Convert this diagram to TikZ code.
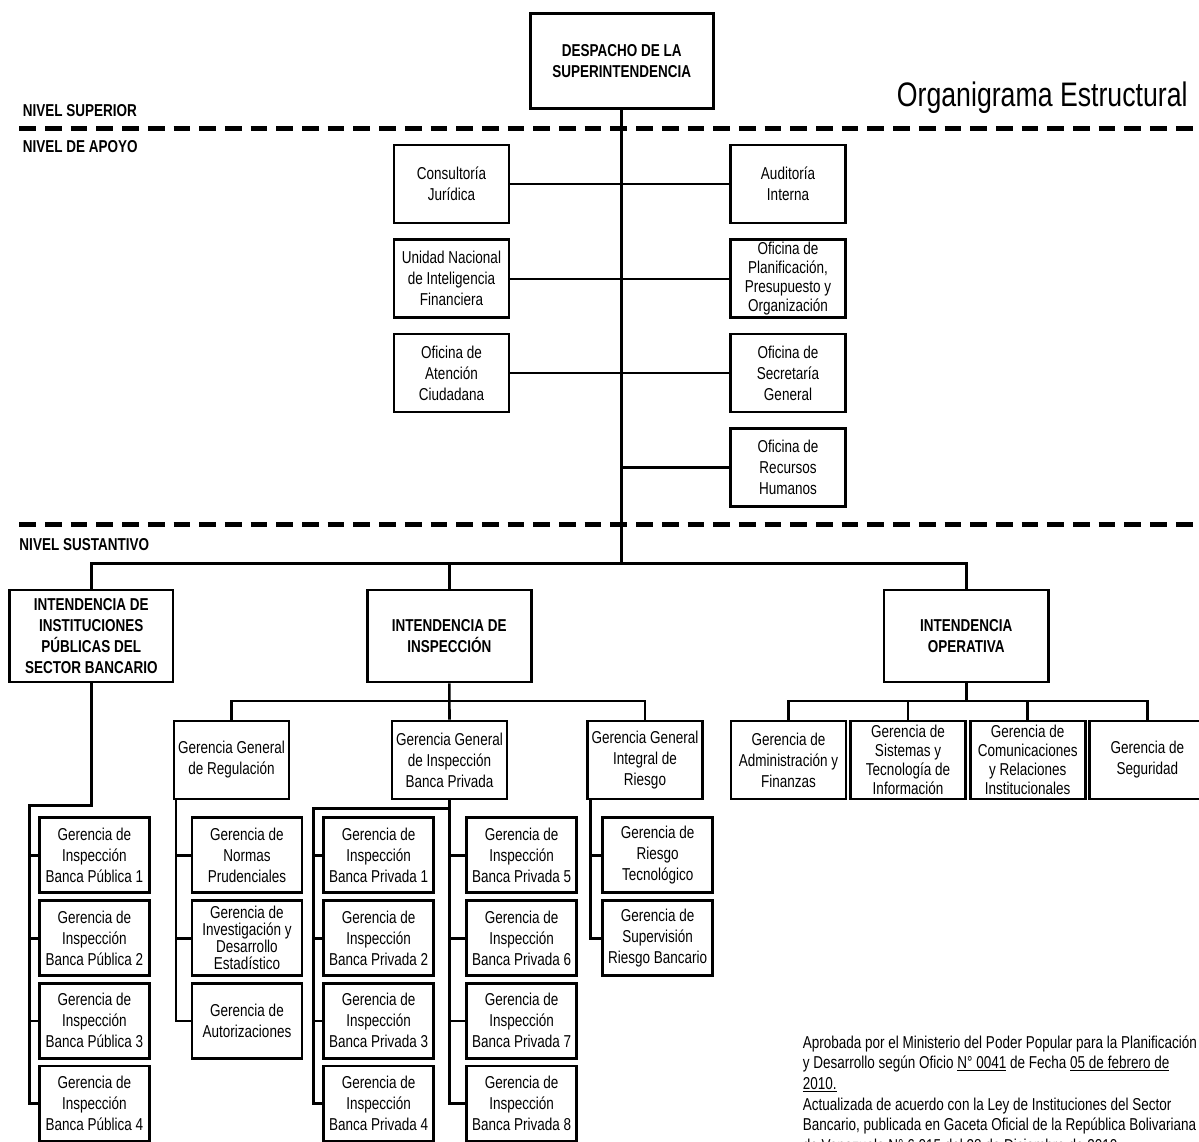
\documentclass[tikz,border=0pt]{standalone}
\usepackage{fontspec}
\setmainfont{Liberation Sans}[FakeStretch=0.785]
\usepackage{tikz}
\usetikzlibrary{calc}

\tikzset{
  caja/.style={draw, line width=2.7pt, minimum width=115pt, minimum height=78pt, inner sep=1pt, align=center, font=\fontsize{17.2}{21}\selectfont},
  cajab/.style={caja, font=\fontsize{17.2}{21}\selectfont\bfseries},
  cajap/.style={caja, minimum width=110pt, minimum height=75pt},
  linea/.style={line width=2.6pt},
  nivel/.style={anchor=base west, inner sep=0pt, font=\fontsize{17.2}{20}\selectfont\bfseries},
  corte/.style={line width=4.6pt, dash pattern=on 16.7pt off 9pt},
}

\begin{document}
\begin{tikzpicture}[x=1pt, y=-1pt]
    \path[use as bounding box] (0,0) rectangle (1199,1141);
    \clip (0,0) rectangle (1199,1141);
    \fill[white] (0,0) rectangle (1199,1141);

    % niveles
    \draw[corte] (19.3,128.3) -- (1215,128.3);
    \draw[corte] (19.3,524.5) -- (1215,524.5);
    \node[nivel] (nsup) at (22.7,116.7) {NIVEL SUPERIOR};
    \node[nivel] (napo) at (22.7,152.7) {NIVEL DE APOYO};
    \node[nivel] (nsus) at (19.3,550) {NIVEL SUSTANTIVO};
    \node[anchor=base west, inner sep=0pt, font=\fontsize{34}{40}\selectfont] (titulo) at (896.7,106.7) {Organigrama Estructural};

    % nivel superior
    \node[cajab, minimum width=183pt, minimum height=95pt] (despacho) at (621.7,60.8) {DESPACHO DE LA\\SUPERINTENDENCIA};

    % nivel de apoyo
    \node[caja] (consultoria) at (451.5,184) {Consultoría\\Jurídica};
    \node[caja] (unidad) at (451.5,278.8) {Unidad Nacional\\de Inteligencia\\Financiera};
    \node[caja] (atencion) at (451.5,373) {Oficina de\\Atención\\Ciudadana};
    \node[caja] (auditoria) at (788,184) {Auditoría\\Interna};
    \node[caja, font=\fontsize{17.2}{19}\selectfont] (planif) at (788,278.8) {Oficina de\\Planificación,\\Presupuesto y\\Organización};
    \node[caja] (secretaria) at (788,373) {Oficina de\\Secretaría\\General};
    \node[caja] (rrhh) at (788,467.5) {Oficina de\\Recursos\\Humanos};

    % nivel sustantivo: intendencias
    \node[cajab, minimum width=163.5pt, minimum height=92pt] (intpub) at (91.3,636) {INTENDENCIA DE\\INSTITUCIONES\\PÚBLICAS DEL\\SECTOR BANCARIO};
    \node[cajab, minimum width=164pt, minimum height=92pt] (intinsp) at (449.3,636) {INTENDENCIA DE\\INSPECCIÓN};
    \node[cajab, minimum width=164.5pt, minimum height=92pt] (intop) at (966.3,636) {INTENDENCIA\\OPERATIVA};

    % gerencias generales y gerencias operativas
    \node[caja] (ggreg) at (231.5,760) {Gerencia General\\de Regulación};
    \node[caja] (ggpriv) at (449.5,760) {Gerencia General\\de Inspección\\Banca Privada};
    \node[caja] (ggriesgo) at (645,760) {Gerencia General\\Integral de\\Riesgo};
    \node[caja] (gadm) at (788.5,760) {Gerencia de\\Administración y\\Finanzas};
    \node[caja, font=\fontsize{17.2}{19}\selectfont] (gsis) at (908,760) {Gerencia de\\Sistemas y\\Tecnología de\\Información};
    \node[caja, font=\fontsize{17.2}{19}\selectfont] (gcom) at (1027.7,760) {Gerencia de\\Comunicaciones\\y Relaciones\\Institucionales};
    \node[caja] (gseg) at (1147.3,760) {Gerencia de\\Seguridad};

    % banca publica
    \node[cajap] (pub1) at (94.3,855.2) {Gerencia de\\Inspección\\Banca Pública 1};
    \node[cajap] (pub2) at (94.3,938.2) {Gerencia de\\Inspección\\Banca Pública 2};
    \node[cajap] (pub3) at (94.3,1020.8) {Gerencia de\\Inspección\\Banca Pública 3};
    \node[cajap] (pub4) at (94.3,1103.5) {Gerencia de\\Inspección\\Banca Pública 4};

    % regulacion
    \node[cajap] (normas) at (247,855.2) {Gerencia de\\Normas\\Prudenciales};
    \node[cajap, font=\fontsize{17.2}{17}\selectfont] (investig) at (247,938.2) {Gerencia de\\Investigación y\\Desarrollo\\Estadístico};
    \node[cajap] (autoriz) at (247,1020.8) {Gerencia de\\Autorizaciones};

    % banca privada
    \node[cajap] (priv1) at (378.7,855.2) {Gerencia de\\Inspección\\Banca Privada 1};
    \node[cajap] (priv2) at (378.7,938.2) {Gerencia de\\Inspección\\Banca Privada 2};
    \node[cajap] (priv3) at (378.7,1020.8) {Gerencia de\\Inspección\\Banca Privada 3};
    \node[cajap] (priv4) at (378.7,1103.5) {Gerencia de\\Inspección\\Banca Privada 4};
    \node[cajap] (priv5) at (521.7,855.2) {Gerencia de\\Inspección\\Banca Privada 5};
    \node[cajap] (priv6) at (521.7,938.2) {Gerencia de\\Inspección\\Banca Privada 6};
    \node[cajap] (priv7) at (521.7,1020.8) {Gerencia de\\Inspección\\Banca Privada 7};
    \node[cajap] (priv8) at (521.7,1103.5) {Gerencia de\\Inspección\\Banca Privada 8};

    % riesgo
    \node[cajap] (riestec) at (657.7,855.2) {Gerencia de\\Riesgo\\Tecnológico};
    \node[cajap] (riesban) at (657.7,938.2) {Gerencia de\\Supervisión\\Riesgo Bancario};

    % conexiones superiores
    \coordinate (bus) at (621.7,563.3);
    \draw[linea] (despacho.south) -- (bus);
    \draw[linea] (consultoria.east) -- (auditoria.west);
    \draw[linea] (unidad.east) -- (planif.west);
    \draw[linea] (atencion.east) -- (secretaria.west);
    \draw[linea] (rrhh.west) -- (rrhh.west -| despacho.south);
    \draw[linea] (intpub.north) |- (bus) -| (intop.north);
    \draw[linea] (intinsp.north) -- (intinsp.north |- bus);

    % inspeccion
    \coordinate (binsp) at (449.3,701);
    \draw[linea] (intinsp.south) -- (ggpriv.north);
    \draw[linea] (ggreg.north) |- (binsp) -| (ggriesgo.north);

    % operativa
    \coordinate (bop) at (966.3,701);
    \draw[linea] (intop.south) -- (bop);
    \draw[linea] (gadm.north) |- (bop) -| (gseg.north);
    \draw[linea] (gsis.north) -- (gsis.north |- bop);
    \draw[linea] (gcom.north) -- (gcom.north |- bop);

    % banca publica
    \coordinate (cpub) at (29.3,805.7);
    \draw[linea] (intpub.south) |- (cpub) |- (pub4.west);
    \draw[linea] (pub1.west) -- (pub1.west -| cpub);
    \draw[linea] (pub2.west) -- (pub2.west -| cpub);
    \draw[linea] (pub3.west) -- (pub3.west -| cpub);

    % regulacion
    \coordinate (creg) at ([xshift=3.3pt]ggreg.south west);
    \draw[linea] (creg) |- (autoriz.west);
    \draw[linea] (normas.west) -- (normas.west -| creg);
    \draw[linea] (investig.west) -- (investig.west -| creg);

    % banca privada
    \coordinate (cpriv) at (313.3,808.3);
    \draw[linea] (ggpriv.south) |- (cpriv) |- (priv4.west);
    \draw[linea] (ggpriv.south) |- (priv8.west);
    \draw[linea] (priv1.west) -- (priv1.west -| cpriv);
    \draw[linea] (priv2.west) -- (priv2.west -| cpriv);
    \draw[linea] (priv3.west) -- (priv3.west -| cpriv);
    \draw[linea] (priv5.west) -- (priv5.west -| ggpriv.south);
    \draw[linea] (priv6.west) -- (priv6.west -| ggpriv.south);
    \draw[linea] (priv7.west) -- (priv7.west -| ggpriv.south);

    % riesgo
    \coordinate (criesgo) at ([xshift=4.4pt]ggriesgo.south west);
    \draw[linea] (criesgo) |- (riesban.west);
    \draw[linea] (riestec.west) -- (riestec.west -| criesgo);

    % nota
    \node[anchor=base west, inner sep=0pt, align=left, font=\fontsize{17.2}{20.7}\selectfont] (nota) at (802.7,1151.5) {Aprobada por el Ministerio del Poder Popular para la Planificación\\y Desarrollo según Oficio \underline{N° 0041} de Fecha \underline{05 de febrero de}\\\underline{2010.}\\Actualizada de acuerdo con la Ley de Instituciones del Sector\\Bancario, publicada en Gaceta Oficial de la República Bolivariana\\de Venezuela N° 6.015 del 28 de Diciembre de 2010.};
\end{tikzpicture}
\end{document}
